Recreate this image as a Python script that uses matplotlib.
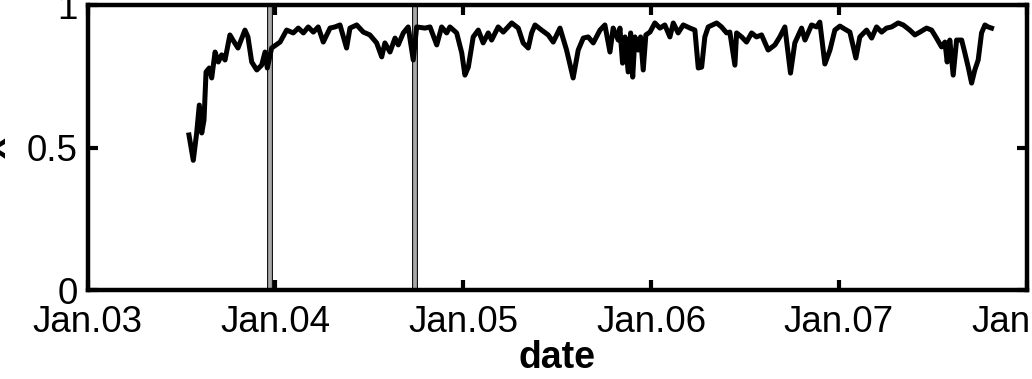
import matplotlib
matplotlib.use('Agg')
import matplotlib.pyplot as plt

# decimal year and value
year = [2003.540, 2003.563, 2003.581, 2003.595, 2003.608, 2003.620, 2003.631, 2003.648,
        2003.661, 2003.679, 2003.696, 2003.714, 2003.732, 2003.758, 2003.774, 2003.801,
        2003.838, 2003.854, 2003.874, 2003.901, 2003.927, 2003.945, 2003.957, 2003.980,
        2004.025, 2004.060, 2004.095, 2004.122, 2004.149, 2004.175, 2004.202, 2004.228,
        2004.255, 2004.291, 2004.317, 2004.344, 2004.379, 2004.397, 2004.433, 2004.468,
        2004.503, 2004.539, 2004.566, 2004.583, 2004.610, 2004.637, 2004.654, 2004.681,
        2004.707, 2004.734, 2004.752, 2004.796, 2004.823, 2004.859, 2004.885, 2004.912,
        2004.929, 2004.965, 2004.992, 2005.009, 2005.027, 2005.053, 2005.080, 2005.106,
        2005.133, 2005.151, 2005.186, 2005.213, 2005.258, 2005.293, 2005.319, 2005.346,
        2005.364, 2005.382, 2005.417, 2005.452, 2005.479, 2005.515, 2005.550, 2005.585,
        2005.612, 2005.639, 2005.665, 2005.692, 2005.728, 2005.754, 2005.781, 2005.798,
        2005.825, 2005.834, 2005.848, 2005.861, 2005.878, 2005.891, 2005.902, 2005.914,
        2005.931, 2005.944, 2005.958, 2005.972, 2005.994, 2006.020, 2006.047, 2006.073,
        2006.100, 2006.118, 2006.144, 2006.171, 2006.207, 2006.233, 2006.251, 2006.269,
        2006.286, 2006.304, 2006.349, 2006.375, 2006.402, 2006.419, 2006.446, 2006.455,
        2006.482, 2006.508, 2006.535, 2006.561, 2006.588, 2006.623, 2006.659, 2006.685,
        2006.712, 2006.742, 2006.765, 2006.801, 2006.819, 2006.854, 2006.881, 2006.898,
        2006.925, 2006.952, 2006.978, 2007.005, 2007.022, 2007.058, 2007.090, 2007.111,
        2007.147, 2007.174, 2007.200, 2007.227, 2007.253, 2007.280, 2007.315, 2007.342,
        2007.377, 2007.404, 2007.431, 2007.466, 2007.493, 2007.519, 2007.546, 2007.564,
        2007.576, 2007.590, 2007.608, 2007.626, 2007.653, 2007.670, 2007.688, 2007.706,
        2007.723, 2007.741, 2007.759, 2007.777, 2007.794, 2007.812]
ratio = [0.544, 0.455, 0.551, 0.649, 0.551, 0.596, 0.765, 0.779,
         0.744, 0.835, 0.800, 0.825, 0.807, 0.895, 0.877, 0.849,
         0.912, 0.888, 0.800, 0.772, 0.789, 0.835, 0.779, 0.849,
         0.870, 0.912, 0.902, 0.919, 0.902, 0.923, 0.905, 0.923,
         0.870, 0.919, 0.923, 0.930, 0.849, 0.919, 0.930, 0.905,
         0.895, 0.867, 0.818, 0.867, 0.835, 0.884, 0.860, 0.902,
         0.923, 0.807, 0.923, 0.919, 0.923, 0.860, 0.923, 0.902,
         0.923, 0.902, 0.832, 0.754, 0.782, 0.888, 0.912, 0.867,
         0.902, 0.877, 0.923, 0.905, 0.937, 0.919, 0.867, 0.849,
         0.902, 0.930, 0.912, 0.895, 0.870, 0.919, 0.842, 0.744,
         0.842, 0.884, 0.888, 0.867, 0.912, 0.930, 0.835, 0.919,
         0.877, 0.919, 0.796, 0.888, 0.765, 0.902, 0.747, 0.888,
         0.842, 0.888, 0.772, 0.895, 0.905, 0.937, 0.919, 0.930,
         0.888, 0.937, 0.902, 0.930, 0.919, 0.912, 0.779, 0.782,
         0.888, 0.923, 0.937, 0.923, 0.902, 0.905, 0.789, 0.902,
         0.888, 0.870, 0.902, 0.888, 0.895, 0.842, 0.860, 0.888,
         0.923, 0.761, 0.867, 0.919, 0.877, 0.930, 0.923, 0.940,
         0.793, 0.842, 0.912, 0.926, 0.919, 0.905, 0.814, 0.888,
         0.912, 0.884, 0.923, 0.905, 0.919, 0.923, 0.937, 0.930,
         0.912, 0.895, 0.905, 0.919, 0.912, 0.884, 0.853, 0.870,
         0.800, 0.877, 0.754, 0.877, 0.877, 0.832, 0.782, 0.726,
         0.772, 0.807, 0.902, 0.930, 0.923, 0.919]

events = [2003.969, 2004.743]
tick_years = [2003, 2004, 2005, 2006, 2007, 2008]
tick_labels = ['Jan.03', 'Jan.04', 'Jan.05', 'Jan.06', 'Jan.07', 'Jan.08']

plt.rcParams['font.family'] = ['Liberation Sans', 'DejaVu Sans']

fig = plt.figure(figsize=(10.32, 3.79), dpi=100)
ax = fig.add_axes([0.0848, 0.2348, 0.9102, 0.752])

# event markers: grey bars with a thin black outline
for ev in events:
    ax.axvline(ev, color='black', lw=4.2, zorder=1)
    ax.axvline(ev, color='#a9a9a9', lw=2.7, zorder=2)

ax.plot(year, ratio, color='black', lw=3.6, zorder=3, solid_joinstyle='round')

ax.set_xlim(2003, 2008)
ax.set_ylim(0, 1)
ax.set_xticks(tick_years)
ax.set_xticklabels(tick_labels)
ax.set_yticks([0, 0.5, 1])
ax.set_yticklabels(['0', '0.5', '1'])

for s in ax.spines.values():
    s.set_linewidth(3.2)
ax.tick_params(direction='in', length=7, width=3, labelsize=26.5,
               top=True, right=True)
ax.tick_params(axis='x', pad=11)
ax.tick_params(axis='y', pad=7)

ax.set_xlabel('date', fontsize=27, fontweight='bold', labelpad=0)
# y label is mostly cut off by the left edge of the image
ax.text(-0.0868, 0.5, 'x', transform=ax.transAxes, rotation=90,
        rotation_mode='anchor', ha='center', va='baseline',
        fontsize=27, fontweight='bold')

fig.savefig('out.png', dpi=100)
